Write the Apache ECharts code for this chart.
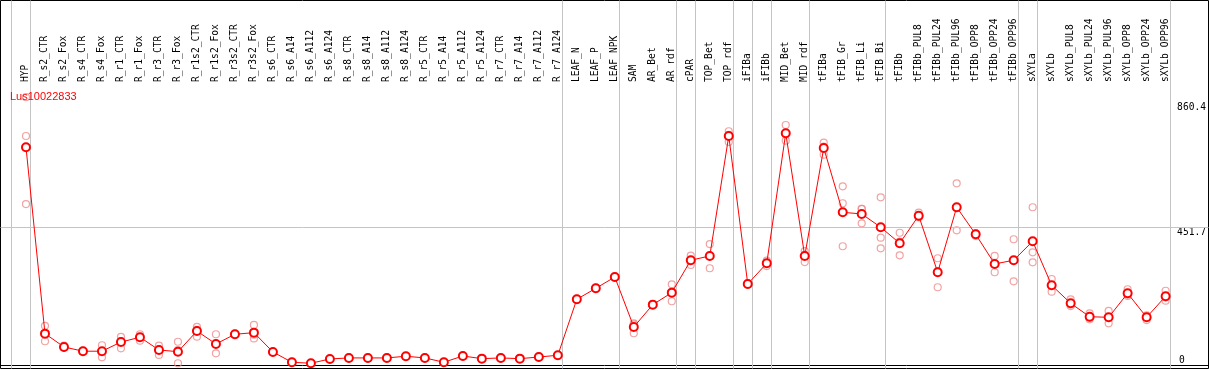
<!DOCTYPE html>
<html><head><meta charset="utf-8">
<script src="https://cdn.jsdelivr.net/npm/echarts@6/dist/echarts.min.js"></script>
<style>html,body{margin:0;padding:0;background:#fff}#c{width:1209px;height:370px}</style>
</head><body><div id="c"></div>
<script>
const geneName = 'Lus10022833';
const categories = ['HYP','R_s2_CTR','R_s2_Fox','R_s4_CTR','R_s4_Fox','R_r1_CTR','R_r1_Fox','R_r3_CTR','R_r3_Fox','R_r1s2_CTR','R_r1s2_Fox','R_r3s2_CTR','R_r3s2_Fox','R_s6_CTR','R_s6_A14','R_s6_A112','R_s6_A124','R_s8_CTR','R_s8_A14','R_s8_A112','R_s8_A124','R_r5_CTR','R_r5_A14','R_r5_A112','R_r5_A124','R_r7_CTR','R_r7_A14','R_r7_A112','R_r7_A124','LEAF_N','LEAF_P','LEAF_NPK','SAM','AR_Bet','AR_rdf','cPAR','TOP_Bet','TOP_rdf','iFIBa','iFIBb','MID_Bet','MID_rdf','tFIBa','tFIB_Gr','tFIB_Li','tFIB_Bi','tFIBb','tFIBb_PUL8','tFIBb_PUL24','tFIBb_PUL96','tFIBb_OPP8','tFIBb_OPP24','tFIBb_OPP96','sXYLa','sXYLb','sXYLb_PUL8','sXYLb_PUL24','sXYLb_PUL96','sXYLb_OPP8','sXYLb_OPP24','sXYLb_OPP96'];
const meanValues = [715,104.5,61,47,47,77,92.7,51,45.5,113,70.7,102.5,107.8,44.5,10.8,7.5,21.6,25,25,25,30.5,25,10.8,31.4,22.6,25,22.6,28,33.7,217,253,290,126.4,199.5,238.8,345,359,752,267.3,335,761,359,712.7,502,496.6,453,400.6,491,305.6,518.5,430,332.8,345,407,263,204,160,158,236.8,158,227];
const rep1 = [879,130,65,49,66.5,94,102.5,65,78,127,102.5,105,133,46,12,9,23,27,27,27,32,27,12,33,24,27,24,30,35,219,255,292,138.5,201,266,360,398,767.5,270,344,788,375,730,587,513,551,435,501,351.5,597,424.5,359,413.7,518.5,283.6,217,171,179,250,164.6,245];
const rep2 = [752,79.6,58,45,27,56.6,81.6,34.7,7.5,94.7,40,100,89,43,9.5,6,20,23,23,23,29,23,9.5,30,21,23,21,26,32,215,251,288,105.8,198,210.6,329.5,318.7,732.4,265,326,736.6,339,690.8,531.6,466,419,361,487,256.5,443,432,305.6,276,371,242,195,151.6,138.5,228,149,212.6];
const rep3 = [529,104,60,47,47.5,80,94,53,51,117,70,102.5,101,44.5,10.8,7.5,21.6,25,25,25,30.5,25,10.8,31.4,22.6,25,22.6,28,33.7,217,253,290,135,199.5,240,345,360,756,267,335,758,363,717,390.8,513,384,406,485,309,515.5,433,334,345,338,263,200,157,157,232,160,223];
const yTickValues = [451.7, 860.4];
const yZeroTick = [0];
const gridLineValue = 451.7;
const groupEnds = [-1,0,28,31,34,35,37,38,39,41,45,52,53,60];

// layout
const W = 1209, H = 370;
const TOP = 85, BOTTOM_PX = 368;
const CAT_W = 19, FIRST_X = 26;
const Y_MIN = -8, Y_MAX = 919;
const mainLeft = FIRST_X - CAT_W/2;
const mainRight = W - (mainLeft + CAT_W*categories.length);
const frameL = 0.5, frameR = 0.5;
const xMinFrame = (frameL - FIRST_X)/CAT_W;
const xMaxFrame = (W - frameR - FIRST_X)/CAT_W;
const SEP_OFF = 0.24;

const mono = 'DejaVu Sans Mono';
const chart = echarts.init(document.getElementById('c'), null, {renderer:'canvas'});
function repData(arr){ return arr.map((v,i)=>[i,v]); }
const repStyle = {color:'rgba(255,255,255,0)', borderColor:'#ee8c8c', borderWidth:1.2};

chart.setOption({
  animation:false,
  backgroundColor:'#fff',
  title:{text:geneName, left:10, top:91, padding:0,
    textStyle:{color:'#ff0000', fontSize:11, fontWeight:'normal', fontFamily:'Liberation Sans'}},
  grid:[
    {left:mainLeft, right:mainRight, top:TOP, bottom:H-BOTTOM_PX},
    {left:frameL, right:frameR, top:0.5, bottom:H-BOTTOM_PX-0.5, show:true, borderColor:'#000', borderWidth:1, backgroundColor:'transparent'},
    {left:frameL, right:frameR, top:TOP, bottom:H-BOTTOM_PX}
  ],
  xAxis:[
    {type:'category', gridIndex:0, data:categories, position:'top', boundaryGap:true,
      axisLine:{show:false}, axisTick:{show:false}, splitLine:{show:false},
      axisLabel:{rotate:90, margin:3, interval:0, color:'#000', fontFamily:mono, fontSize:9.6}},
    {type:'value', gridIndex:1, min:xMinFrame, max:xMaxFrame, show:false},
    {type:'value', gridIndex:2, min:0, max:1, position:'top',
      axisLine:{show:true, lineStyle:{color:'#000', width:1}}, axisTick:{show:false}, axisLabel:{show:false}, splitLine:{show:false}}
  ],
  yAxis:[
    {type:'value', gridIndex:0, min:Y_MIN, max:Y_MAX, position:'right',
      axisLine:{show:false}, axisTick:{show:false}, splitLine:{show:false},
      axisLabel:{customValues:yTickValues, margin:2, verticalAlign:'top', color:'#000', fontFamily:mono, fontSize:9.6,
        formatter:v=>String(v)}},
    {type:'value', gridIndex:0, min:Y_MIN, max:Y_MAX, position:'right',
      axisLine:{show:false}, axisTick:{show:false}, splitLine:{show:false},
      axisLabel:{customValues:yZeroTick, margin:4, verticalAlign:'bottom', color:'#000', fontFamily:mono, fontSize:9.6,
        formatter:v=>String(v)}},
    {type:'value', gridIndex:1, min:0, max:1, show:false},
    {type:'value', gridIndex:2, min:Y_MIN, max:Y_MAX, show:false}
  ],
  series:[
    {type:'line', xAxisIndex:1, yAxisIndex:2, data:[], z:1, silent:true,
      markLine:{symbol:'none', silent:true, label:{show:false},
        lineStyle:{color:'#c4c4c4', width:1, type:'solid'},
        data:groupEnds.map(e=>({xAxis:e+SEP_OFF}))}},
    {type:'line', xAxisIndex:2, yAxisIndex:3, data:[], z:1, silent:true,
      markLine:{symbol:'none', silent:true, label:{show:false},
        lineStyle:{color:'#c4c4c4', width:1, type:'solid'},
        data:[{yAxis:gridLineValue}]}},
    {type:'scatter', xAxisIndex:0, yAxisIndex:0, data:repData(rep1), symbol:'circle', symbolSize:7, itemStyle:repStyle, z:3},
    {type:'scatter', xAxisIndex:0, yAxisIndex:0, data:repData(rep2), symbol:'circle', symbolSize:7, itemStyle:repStyle, z:3},
    {type:'scatter', xAxisIndex:0, yAxisIndex:0, data:repData(rep3), symbol:'circle', symbolSize:7, itemStyle:repStyle, z:3},
    {type:'line', xAxisIndex:0, yAxisIndex:0, data:meanValues, symbol:'emptyCircle', symbolSize:8, showAllSymbol:true,
      lineStyle:{color:'#ff0000', width:1}, itemStyle:{color:'#ff0000', borderColor:'#ff0000', borderWidth:1.4}, z:5}
  ]
});
</script></body></html>
